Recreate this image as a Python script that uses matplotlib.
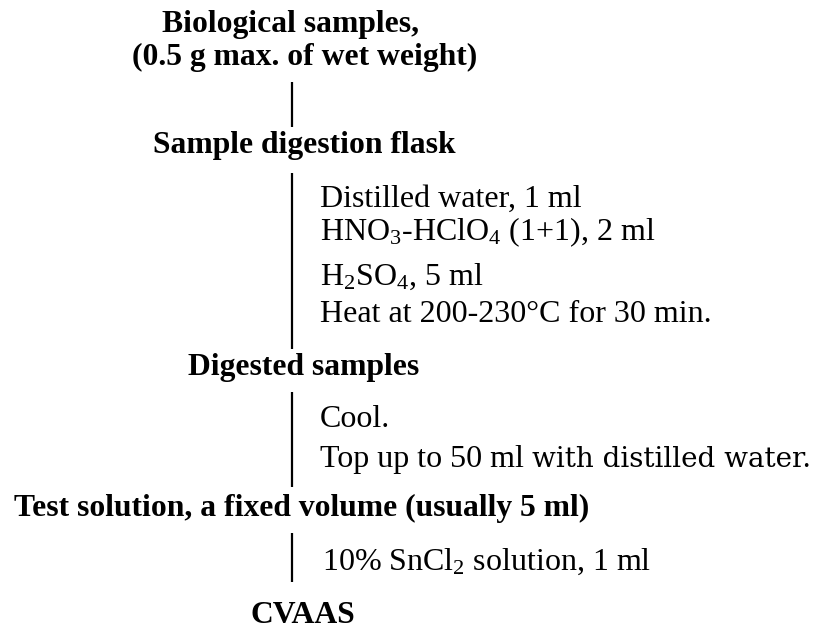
import matplotlib
matplotlib.use('Agg')
import matplotlib.pyplot as plt

plt.rcParams['font.family'] = ['Liberation Serif', 'DejaVu Serif']
plt.rcParams['mathtext.default'] = 'regular'

# Flow steps (bold headings) and the conditions between them
steps = [
    'Biological samples,',
    '(0.5 g max. of wet weight)',
    'Sample digestion flask',
    'Digested samples',
    'Test solution, a fixed volume (usually 5 ml)',
    'CVAAS',
]
conditions = [
    'Distilled water, 1 ml',
    r'HNO$_3$-HClO$_4$ (1+1), 2 ml',
    r'H$_2$SO$_4$, 5 ml',
    'Heat at 200-230°C for 30 min.',
    'Cool.',
    'Top up to 50 ml ',
    r'10% SnCl$_2$ solution, 1 ml',
]
extra_tail = 'with distilled water.'

# layout in pixel coordinates (y down), left edge + baseline
step_x = [162, 132, 153, 188, 14, 251]
step_y = [32, 65, 153, 375, 516, 623]
cond_x = [320, 320, 320, 320, 320, 320, 322]
cond_y = [207, 240, 285, 322, 427, 467, 570]
links = [(82, 127), (173, 349), (392, 487), (533, 582)]
link_x = 292

fig = plt.figure(figsize=(8.39, 6.3), dpi=100)
ax = fig.add_axes([0, 0, 1, 1])
ax.set_xlim(0, 839)
ax.set_ylim(630, 0)
ax.axis('off')
renderer = fig.canvas.get_renderer()


def fit_size(s, width, **kw):
    # font size that gives the text the measured pixel width
    t = ax.text(0, 0, s, fontsize=20, **kw)
    w = t.get_window_extent(renderer).width
    t.remove()
    return 20 * width / w


bold_size = fit_size(steps[2], 302, fontweight='bold')
reg_size = fit_size(conditions[3], 391)
tail_size = fit_size(extra_tail, 279, family='DejaVu Serif')

for x, y, s in zip(step_x, step_y, steps):
    ax.text(x, y, s, ha='left', va='baseline', fontsize=bold_size,
            fontweight='bold')

for y0, y1 in links:
    ax.plot([link_x, link_x], [y0, y1], color='black', lw=1.6,
            solid_capstyle='butt')

last = None
for x, y, s in zip(cond_x, cond_y, conditions):
    t = ax.text(x, y, s, ha='left', va='baseline', fontsize=reg_size)
    if s.startswith('Top up'):
        last = t

# the tail of the "Top up" line is set in another face in the original
fig.canvas.draw()
bb = last.get_window_extent()
x_end = ax.transData.inverted().transform((bb.x1, bb.y0))[0]
ax.text(x_end, cond_y[5], extra_tail, ha='left', va='baseline',
        fontsize=tail_size, family='DejaVu Serif')

fig.savefig('out.png', dpi=100)
